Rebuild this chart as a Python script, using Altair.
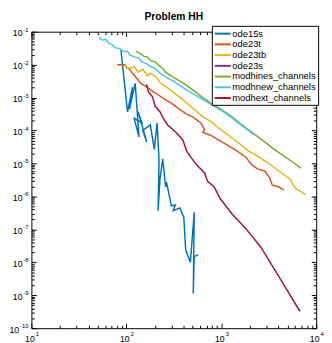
import altair as alt
import pandas as pd

series_names = ["ode15s", "ode23t", "ode23tb", "ode23s",
                "modhines_channels", "modhnew_channels", "modhext_channels"]
series_colors = ["#0072BD", "#D95319", "#EDB120", "#7E2F8E",
                 "#77AC30", "#4DBEEE", "#A2142F"]

ode15s_x = [87.7, 103, 116, 108, 124, 136, 121, 146, 133, 164, 149, 179, 197, 211, 221, 216,
            226, 242, 259, 265, 298, 327, 312, 367, 403, 422, 473, 519, 507, 519, 569]
ode15s_y = [2.86e-2, 3.7e-4, 2.06e-3, 4.5e-4, 2.7e-3, 6.3e-5, 2.35e-4, 1.7e-4, 3.7e-4, 4.5e-5,
            1.0e-4, 1.48e-4, 2.7e-5, 1.7e-4, 1.22e-5, 3.7e-7, 3.3e-6, 1.39e-5, 1.93e-6, 2.7e-6,
            5.2e-7, 5.5e-7, 3.7e-7, 4.5e-7, 2.35e-7, 2.35e-8, 1.0e-8, 3.3e-7, 1.14e-9, 1.48e-8, 1.7e-8]

ode23t_x = [80, 96.2, 100.7, 108, 118, 130, 142, 167, 188, 216, 254, 298, 359, 422, 507, 610,
            668, 638, 769, 903, 1138, 1432, 1807, 2123, 2438, 2864, 3218, 3451, 4055, 4550]
ode23t_y = [1.0e-2, 1.0e-2, 8.21e-3, 7.20e-3, 5.18e-3, 3.73e-3, 2.68e-3, 2.06e-3, 1.58e-3, 1.22e-3,
            8.77e-4, 6.74e-4, 4.54e-4, 3.27e-4, 2.51e-4, 1.69e-4, 1.07e-4, 8.77e-5, 7.20e-5, 5.53e-5,
            3.73e-5, 2.51e-5, 1.58e-5, 8.77e-6, 6.74e-6, 5.91e-6, 3.73e-6, 2.20e-6, 1.93e-6, 1.58e-6]

ode23tb_x = [94.0, 108, 121, 133, 149, 167, 179, 210, 226, 259, 319, 403, 484, 569, 653, 769,
             903, 1087, 1337, 1610, 1936, 2382, 3069, 4055, 5346, 5728, 6138, 6887, 7740]
ode23tb_y = [9.36e-3, 7.69e-3, 8.77e-3, 5.91e-3, 7.20e-3, 4.54e-3, 5.53e-3, 3.98e-3, 2.87e-3, 2.20e-3,
             1.39e-3, 8.21e-4, 5.18e-4, 3.49e-4, 2.51e-4, 1.93e-4, 1.30e-4, 8.77e-5, 5.53e-5, 3.73e-5,
             2.35e-5, 1.69e-5, 1.07e-5, 5.91e-6, 3.27e-6, 2.20e-6, 1.69e-6, 1.39e-6, 1.14e-6]

ode23s_x = []
ode23s_y = []

modhines_x = [127, 139, 152, 167, 183, 201, 221, 242, 259, 319, 403, 507, 638, 805, 1014, 1277,
              1610, 2173, 2864, 3614, 4550, 5728, 6887]
modhines_y = [2.51e-2, 2.20e-2, 1.81e-2, 1.69e-2, 1.30e-2, 1.22e-2, 9.36e-3, 7.69e-3, 5.91e-3,
              3.98e-3, 2.68e-3, 1.69e-3, 1.0e-3, 6.31e-4, 4.25e-4, 2.68e-4, 1.58e-4, 8.21e-5,
              4.54e-5, 2.68e-5, 1.69e-5, 1.07e-5, 7.20e-6]

modhnew_x = [51.5, 56.5, 60.6, 64.9, 71.2, 76.3, 85.7, 94.0, 103, 110, 124, 136, 146, 163, 179,
             201, 226, 259, 319, 403, 507, 638, 805, 1014, 1277, 1610, 1892, 2173]
modhnew_y = [6.74e-2, 5.53e-2, 5.91e-2, 4.54e-2, 3.98e-2, 3.27e-2, 3.06e-2, 2.51e-2, 2.51e-2,
             1.93e-2, 1.69e-2, 1.58e-2, 1.22e-2, 1.07e-2, 8.77e-3, 7.69e-3, 5.53e-3, 4.25e-3,
             3.06e-3, 1.93e-3, 1.30e-3, 8.77e-4, 5.91e-4, 3.98e-4, 2.51e-4, 1.48e-4, 1.07e-4, 7.69e-5]

modhext_x = [163, 171, 188, 201, 226, 242, 272, 334, 394, 432, 484, 556, 668, 717, 843, 968,
             1306, 1807, 2612, 3873, 5105, 6730]
modhext_y = [2.51e-3, 1.48e-3, 1.07e-3, 5.53e-4, 3.73e-4, 2.51e-4, 1.48e-4, 8.77e-5, 5.18e-5,
             2.35e-5, 1.48e-5, 8.77e-6, 5.18e-6, 2.87e-6, 1.93e-6, 8.77e-7, 2.87e-7, 1.07e-7,
             2.87e-8, 4.54e-9, 1.22e-9, 3.27e-10]

x_decades = [1, 2, 3, 4]
y_decades = [-1, -2, -3, -4, -5, -6, -7, -8, -9, -10]

rows = []
for name, xs_, ys_ in [("ode15s", ode15s_x, ode15s_y), ("ode23t", ode23t_x, ode23t_y),
                       ("ode23tb", ode23tb_x, ode23tb_y), ("ode23s", ode23s_x, ode23s_y),
                       ("modhines_channels", modhines_x, modhines_y),
                       ("modhnew_channels", modhnew_x, modhnew_y),
                       ("modhext_channels", modhext_x, modhext_y)]:
    for i, (a, b) in enumerate(zip(xs_, ys_)):
        rows.append({"series": name, "n": a, "err": b, "i": i})
df = pd.DataFrame(rows)

W, H = 292, 304
FONT = "Liberation Sans"
BASE_FS = 9
EXP_FS = 6
EXP_EXPR = "'' + round(log(datum.value)/LN10)"

x_major = [float(f"1e{k}") for k in x_decades]
x_minor = [m * float(f"1e{k}") for k in x_decades[:-1] for m in range(2, 10)]
y_major = [float(f"1e{k}") for k in y_decades]
y_minor = [m * float(f"1e{k}") for k in y_decades[1:] for m in range(2, 10)]

xsc = alt.Scale(type="log", domain=[10, 10000], nice=False)
ysc = alt.Scale(type="log", domain=[1e-10, 1e-1], nice=False)

common_lbl = dict(ticks=False, domain=False, grid=False, title=None, labelFlush=False,
                  labelOverlap=False, labelFont=FONT, labelColor="black")

lines = alt.Chart(df).mark_line(strokeWidth=1.5, clip=True).encode(
    x=alt.X("n:Q", scale=xsc, axis=alt.Axis(
        orient="bottom", values=x_major, labelExpr="'10'", labelAlign="center",
        labelBaseline="top", labelPadding=7, labelOffset=-2, labelFontSize=BASE_FS,
        **common_lbl)),
    y=alt.Y("err:Q", scale=ysc, axis=alt.Axis(
        orient="left", values=y_major, labelExpr="'10'", labelAlign="right",
        labelBaseline="middle", labelOffset=1, labelFontSize=BASE_FS,
        labelPadding={"condition": {"test": "datum.value < 5e-10", "value": 13}, "value": 9.5},
        **common_lbl)),
    color=alt.Color("series:N", scale=alt.Scale(domain=series_names, range=series_colors),
                    legend=alt.Legend(
                        title=None, orient="none", legendX=W - 107, legendY=-6,
                        strokeColor="black", fillColor="white", padding=2,
                        symbolType="M-1,0H2.3", symbolSize=100, symbolStrokeWidth=2,
                        labelOffset=7, labelFontSize=9.6, labelFont=FONT, labelColor="black",
                        rowPadding=0)),
    order="i:Q",
)

exponents = alt.Chart(df).mark_point(opacity=0).encode(
    x=alt.X("n:Q", scale=xsc, axis=alt.Axis(
        orient="bottom", values=x_major, labelExpr=EXP_EXPR, labelAlign="left",
        labelBaseline="top", labelPadding=3, labelOffset=4, labelFontSize=EXP_FS,
        **common_lbl)),
    y=alt.Y("err:Q", scale=ysc, axis=alt.Axis(
        orient="left", values=y_major, labelExpr=EXP_EXPR, labelAlign="right",
        labelBaseline="middle", labelPadding=3.5, labelOffset=-2.5, labelFontSize=EXP_FS,
        **common_lbl)),
)


def tick_layer(xorient, yorient, xvals, yvals, size):
    return alt.Chart(df).mark_point(opacity=0).encode(
        x=alt.X("n:Q", scale=xsc, axis=alt.Axis(
            orient=xorient, offset=-H, values=xvals, tickSize=size, labels=False,
            domain=False, grid=False, title=None, tickColor="black", tickWidth=1)),
        y=alt.Y("err:Q", scale=ysc, axis=alt.Axis(
            orient=yorient, offset=-W, values=yvals, tickSize=size, labels=False,
            domain=False, grid=False, title=None, tickColor="black", tickWidth=1)),
    )


chart = alt.layer(
    lines,
    exponents,
    tick_layer("top", "right", x_major, y_major, 5),
    tick_layer("top", "right", x_minor, y_minor, 3),
    tick_layer("bottom", "left", x_major, y_major, 5),
    tick_layer("bottom", "left", x_minor, y_minor, 3),
).resolve_axis(x="independent", y="independent").properties(
    width=W, height=H,
    padding={"left": 0, "top": 0, "right": 0, "bottom": 0},
    title=alt.TitleParams("Problem HH", fontSize=10.5, fontWeight="bold", font=FONT,
                          anchor="middle", offset=3, color="black"),
).configure_view(stroke="black", strokeWidth=1)

chart.save("out.html", embed_options={"renderer": "svg", "actions": False})
